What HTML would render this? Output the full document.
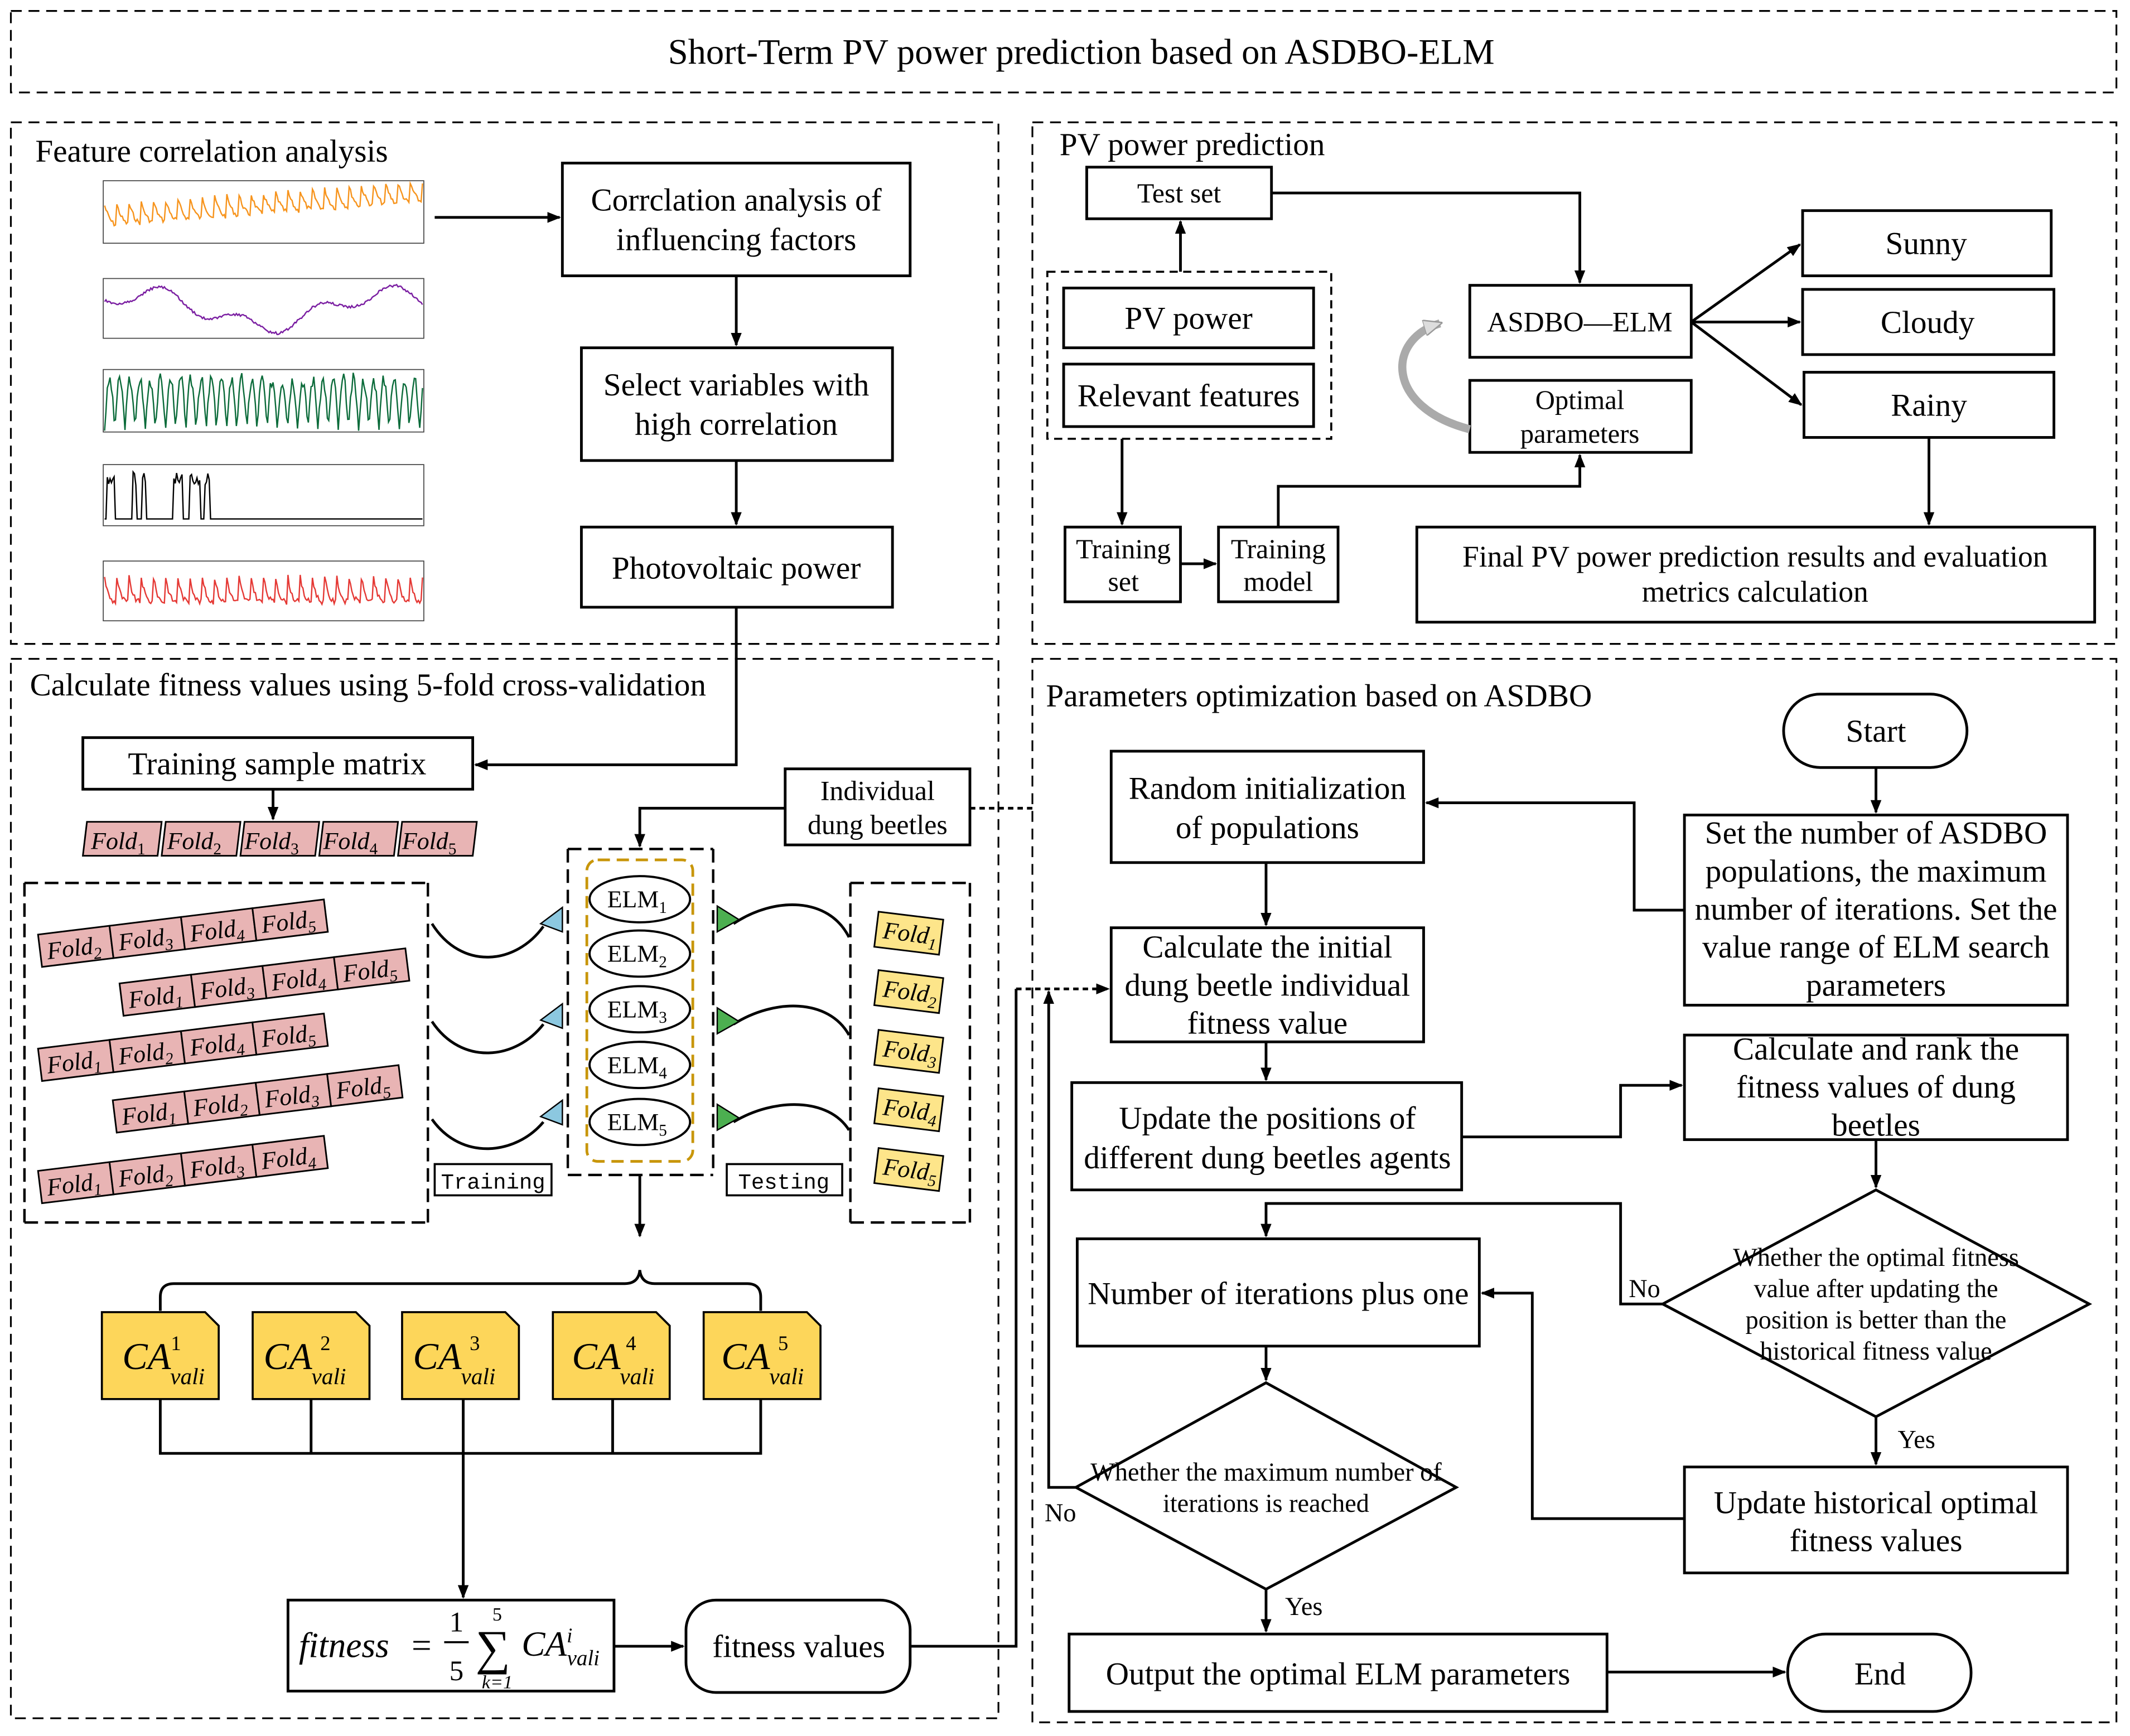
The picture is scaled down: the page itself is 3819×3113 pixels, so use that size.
<!DOCTYPE html>
<html><head><meta charset="utf-8"><style>html,body{margin:0;padding:0;background:#fff}svg{display:block}</style></head>
<body>
<svg xmlns="http://www.w3.org/2000/svg" width="3819" height="3113" viewBox="0 0 1568 1278" font-family="Liberation Serif, serif" font-size="23.5">
<defs>
<marker id="a" markerWidth="10" markerHeight="8" refX="9" refY="4" orient="auto" markerUnits="userSpaceOnUse"><path d="M0,0 L10,4 L0,8 Z" fill="#000"/></marker>
<marker id="g" markerWidth="14" markerHeight="12" refX="12" refY="6" orient="auto" markerUnits="userSpaceOnUse"><path d="M0,0 L14,6 L0,12 Z" fill="#ddd" stroke="#999"/></marker>
</defs>
<rect width="1568" height="1278" fill="#fff"/>
<g fill="none" stroke="#000" stroke-width="1.3" stroke-dasharray="8,5">
<rect x="8" y="8" width="1550" height="60"/>
<rect x="8" y="90" width="727" height="384"/>
<rect x="760" y="90" width="798" height="384"/>
<rect x="8" y="485" width="727" height="780"/>
<rect x="760" y="485" width="798" height="783"/>
</g>
<text x="796" y="47" text-anchor="middle" font-size="26.5">Short-Term PV power prediction based on ASDBO-ELM</text>
<text x="26" y="119" font-size="23.5">Feature correlation analysis</text>
<text x="780" y="114" font-size="23.5">PV power prediction</text>
<text x="22" y="512" font-size="23.5">Calculate fitness values using 5-fold cross-validation</text>
<text x="770" y="520" font-size="23.5">Parameters optimization based on ASDBO</text>

<!-- charts -->
<g fill="none" stroke-width="0.7" stroke="#444">
<rect x="76" y="133" width="236" height="46"/>
<rect x="76" y="205" width="236" height="44"/>
<rect x="76" y="272" width="236" height="46"/>
<rect x="76" y="342" width="236" height="45"/>
<rect x="76" y="413" width="236" height="44"/>
<polyline id="c1" stroke="#f7941d" stroke-width="1"/>
<polyline id="c2" stroke="#7b1fa2" stroke-width="1"/>
<polyline id="c3" stroke="#0b6b3a" stroke-width="1"/>
<polyline id="c4" stroke="#000" stroke-width="1"/>
<polyline id="c5" stroke="#e53935" stroke-width="1"/>
</g>
<script>
(function(){function r(s){return function(){s=(s*9301+49297)%233280;return s/233280;}}
function set(id,y0,h,fn){var p=[];for(var i=0;i<=234;i++){var x=77+i;var v=Math.max(0,Math.min(1,fn(i)));p.push(x+","+(y0+h*v).toFixed(1));}document.getElementById(id).setAttribute("points",p.join(" "));}
var R=r(7);set("c1",135,42,function(i){var ph=(i%9)/9;return 0.7-0.35*Math.pow(1-ph,2)-i*0.0018+0.08*R();});
R=r(11);var w=0.5;set("c2",207,40,function(i){w+= (R()-0.5)*0.08; return 0.5-0.3*Math.sin(i*0.035+0.6)+0.15*Math.sin(i*0.11)+0.05*R();});
R=r(3);set("c3",274,43,function(i){return 1-Math.abs(Math.sin(i*0.42))*(0.75+0.25*R());});
R=r(5);set("c4",344,40,function(i){var on=(i>1&&i<8)||(i>20&&i<24)||(i>27&&i<31)||(i>50&&i<58)||(i>62&&i<71)||(i>73&&i<78);return on?(0.08+0.25*R()):0.95;});
R=r(9);set("c5",415,40,function(i){var ph=(i%9)/9;return 0.75-0.45*Math.pow(1-ph,3)-0.1*R();});})();
</script>

<g fill="none" stroke="#000" stroke-width="2">
<rect x="414" y="120" width="256" height="83"/>
<rect x="428" y="256" width="229" height="83"/>
<rect x="428" y="388" width="229" height="59"/>
<rect x="800" y="123" width="136" height="38"/>
<rect x="783" y="212" width="184" height="44"/>
<rect x="783" y="268" width="184" height="46"/>
<rect x="1082" y="210" width="163" height="53"/>
<rect x="1082" y="280" width="163" height="53"/>
<rect x="1327" y="155" width="183" height="48"/>
<rect x="1327" y="213" width="185" height="48"/>
<rect x="1328" y="274" width="184" height="48"/>
<rect x="1043" y="388" width="499" height="70"/>
<rect x="784" y="388" width="85" height="55"/>
<rect x="897" y="388" width="88" height="55"/>
<rect x="61" y="543" width="287" height="38"/>
<rect x="578" y="566" width="136" height="56"/>
<rect x="212" y="1178" width="240" height="67"/>
<rect x="505" y="1178" width="165" height="68" rx="22"/>
<rect x="1313" y="511" width="135" height="54" rx="27"/>
<rect x="1240" y="600" width="282" height="140"/>
<rect x="818" y="553" width="230" height="82"/>
<rect x="818" y="683" width="230" height="84"/>
<rect x="789" y="797" width="287" height="79"/>
<rect x="1240" y="762" width="282" height="77"/>
<path d="M1381,876 L1538,960 L1381,1043 L1224,960 Z"/>
<rect x="793" y="912" width="296" height="79"/>
<rect x="1240" y="1080" width="282" height="78"/>
<path d="M932,1018 L1072,1095 L932,1170 L792,1095 Z"/>
<rect x="787" y="1203" width="396" height="57"/>
<rect x="1316" y="1203" width="135" height="57" rx="28"/>
</g>
<rect x="771" y="200" width="209" height="123" fill="none" stroke="#000" stroke-width="1.5" stroke-dasharray="6,4"/>

<g font-size="23.5" text-anchor="middle">
<text x="542" y="155">Corrclation analysis of</text><text x="542" y="184">influencing factors</text>
<text x="542" y="291">Select variables with</text><text x="542" y="320">high correlation</text>
<text x="542" y="426">Photovoltaic power</text>
<text x="868" y="149" font-size="20.5">Test set</text>
<text x="875" y="242">PV power</text>
<text x="875" y="299">Relevant features</text>
<text x="1163" y="244" font-size="21">ASDBO—ELM</text>
<text x="1163" y="301" font-size="20">Optimal</text><text x="1163" y="326" font-size="20">parameters</text>
<text x="1418" y="187">Sunny</text><text x="1419" y="245">Cloudy</text><text x="1420" y="306">Rainy</text>
<text x="1292" y="417" font-size="22">Final PV power prediction results and evaluation</text>
<text x="1292" y="443" font-size="22">metrics calculation</text>
<text x="827" y="411" font-size="20.5">Training</text><text x="827" y="435" font-size="20.5">set</text>
<text x="941" y="411" font-size="20.5">Training</text><text x="941" y="435" font-size="20.5">model</text>
<text x="204" y="570">Training sample matrix</text>
<text x="646" y="589" font-size="20.5">Individual</text><text x="646" y="614" font-size="20.5">dung beetles</text>
<text x="588" y="1220">fitness values</text>
<text x="1381" y="546">Start</text>
<text x="1381" y="621">Set the number of ASDBO</text>
<text x="1381" y="649">populations, the maximum</text>
<text x="1381" y="677">number of iterations. Set the</text>
<text x="1381" y="705">value range of ELM search</text>
<text x="1381" y="733">parameters</text>
<text x="933" y="588">Random initialization</text><text x="933" y="617">of populations</text>
<text x="933" y="705">Calculate the initial</text><text x="933" y="733">dung beetle individual</text><text x="933" y="761">fitness value</text>
<text x="933" y="831">Update the positions of</text><text x="933" y="860">different dung beetles agents</text>
<text x="1381" y="780">Calculate and rank the</text><text x="1381" y="808">fitness values of dung</text><text x="1381" y="836">beetles</text>
<text x="1381" y="932" font-size="19">Whether the optimal fitness</text>
<text x="1381" y="955" font-size="19">value after updating the</text>
<text x="1381" y="978" font-size="19">position is better than the</text>
<text x="1381" y="1001" font-size="19">historical fitness value</text>
<text x="941" y="960">Number of iterations plus one</text>
<text x="1381" y="1114">Update historical optimal</text><text x="1381" y="1142">fitness values</text>
<text x="932" y="1090" font-size="19">Whether the maximum number of</text>
<text x="932" y="1113" font-size="19">iterations is reached</text>
<text x="985" y="1240">Output the optimal ELM parameters</text>
<text x="1384" y="1240">End</text>
</g>
<g font-size="19">
<text x="1199" y="955">No</text><text x="1397" y="1066">Yes</text>
<text x="769" y="1120">No</text><text x="946" y="1189">Yes</text>
</g>

<g fill="none" stroke="#000" stroke-width="2" marker-end="url(#a)">
<path d="M320,160 L412,160"/>
<path d="M542,203 L542,254"/>
<path d="M542,339 L542,386"/>
<path d="M542,447 L542,563 L350,563"/>
<path d="M869,200 L869,163"/>
<path d="M936,142 L1163,142 L1163,208"/>
<path d="M1245,237 L1325,180"/>
<path d="M1245,237 L1325,237"/>
<path d="M1245,237 L1326,298"/>
<path d="M1420,322 L1420,386"/>
<path d="M826,323 L826,386"/>
<path d="M869,415 L895,415"/>
<path d="M941,388 L941,358 L1163,358 L1163,335"/>
<path d="M201,581 L201,603"/>
<path d="M578,595 L471,595 L471,623"/>
<path d="M471,865 L471,910"/>
<path d="M341,1070 L341,1176"/>
<path d="M452,1212 L503,1212"/>
<path d="M1381,565 L1381,598"/>
<path d="M1240,670 L1203,670 L1203,591 L1050,591"/>
<path d="M932,635 L932,681"/>
<path d="M932,767 L932,795"/>
<path d="M1076,837 L1193,837 L1193,799 L1238,799"/>
<path d="M1381,839 L1381,874"/>
<path d="M1224,960 L1193,960 L1193,886 L932,886 L932,910"/>
<path d="M1381,1043 L1381,1078"/>
<path d="M1240,1118 L1128,1118 L1128,952 L1091,952"/>
<path d="M932,991 L932,1016"/>
<path d="M792,1095 L772,1095 L772,730"/>
<path d="M932,1170 L932,1201"/>
<path d="M1183,1231 L1314,1231"/>
</g>
<path d="M670,1212 L748,1212 L748,728" fill="none" stroke="#000" stroke-width="2"/>
<path d="M748,728 L816,728" fill="none" stroke="#000" stroke-width="2" stroke-dasharray="4,3" marker-end="url(#a)"/>
<path d="M714,595 L760,595" fill="none" stroke="#000" stroke-width="2" stroke-dasharray="4,3"/>
<path d="M1082,316 C1020,300 1020,250 1060,238" fill="none" stroke="#aaa" stroke-width="6" marker-end="url(#g)"/>

<g font-style="italic" font-size="18" stroke-width="1.2">
<g transform="translate(61,605)">
<g fill="#e8b4b4" stroke="#000"><path d="M3,0 L58,0 L55,25 L0,25Z"/><path d="M61,0 L116,0 L113,25 L58,25Z"/><path d="M119,0 L174,0 L171,25 L116,25Z"/><path d="M177,0 L232,0 L229,25 L174,25Z"/><path d="M235,0 L290,0 L287,25 L232,25Z"/></g>
<text x="6" y="20">Fold<tspan font-size="12" font-style="normal" dy="4">1</tspan></text><text x="62" y="20">Fold<tspan font-size="12" font-style="normal" dy="4">2</tspan></text><text x="119" y="20">Fold<tspan font-size="12" font-style="normal" dy="4">3</tspan></text><text x="177" y="20">Fold<tspan font-size="12" font-style="normal" dy="4">4</tspan></text><text x="235" y="20">Fold<tspan font-size="12" font-style="normal" dy="4">5</tspan></text>
</g>
</g>
<path d="M18,650 L315,650 M18,900 L315,900 M18,650 L18,900 M315,650 L315,900 M626,650 L714,650 M626,900 L714,900 M626,650 L626,900 M714,650 L714,900 M418,625 L525,625 M418,865 L525,865 M418,625 L418,865 M525,625 L525,865" stroke="#000" stroke-width="1.8" stroke-dasharray="10,5" fill="none"/>

<g font-style="italic" font-size="18" stroke-width="1.2">
<g transform="translate(28,688) rotate(-7)"><g fill="#e8b4b4" stroke="#000"><rect x="0" y="0" width="53" height="24"/><rect x="53" y="0" width="53" height="24"/><rect x="106" y="0" width="53" height="24"/><rect x="159" y="0" width="53" height="24"/></g>
<text x="5" y="19">Fold<tspan font-size="12" dy="4">2</tspan></text><text x="58" y="19">Fold<tspan font-size="12" dy="4">3</tspan></text><text x="111" y="19">Fold<tspan font-size="12" dy="4">4</tspan></text><text x="164" y="19">Fold<tspan font-size="12" dy="4">5</tspan></text></g>
<g transform="translate(88,724) rotate(-7)"><g fill="#e8b4b4" stroke="#000"><rect x="0" y="0" width="53" height="24"/><rect x="53" y="0" width="53" height="24"/><rect x="106" y="0" width="53" height="24"/><rect x="159" y="0" width="53" height="24"/></g>
<text x="5" y="19">Fold<tspan font-size="12" dy="4">1</tspan></text><text x="58" y="19">Fold<tspan font-size="12" dy="4">3</tspan></text><text x="111" y="19">Fold<tspan font-size="12" dy="4">4</tspan></text><text x="164" y="19">Fold<tspan font-size="12" dy="4">5</tspan></text></g>
<g transform="translate(28,772) rotate(-7)"><g fill="#e8b4b4" stroke="#000"><rect x="0" y="0" width="53" height="24"/><rect x="53" y="0" width="53" height="24"/><rect x="106" y="0" width="53" height="24"/><rect x="159" y="0" width="53" height="24"/></g>
<text x="5" y="19">Fold<tspan font-size="12" dy="4">1</tspan></text><text x="58" y="19">Fold<tspan font-size="12" dy="4">2</tspan></text><text x="111" y="19">Fold<tspan font-size="12" dy="4">4</tspan></text><text x="164" y="19">Fold<tspan font-size="12" dy="4">5</tspan></text></g>
<g transform="translate(83,810) rotate(-7)"><g fill="#e8b4b4" stroke="#000"><rect x="0" y="0" width="53" height="24"/><rect x="53" y="0" width="53" height="24"/><rect x="106" y="0" width="53" height="24"/><rect x="159" y="0" width="53" height="24"/></g>
<text x="5" y="19">Fold<tspan font-size="12" dy="4">1</tspan></text><text x="58" y="19">Fold<tspan font-size="12" dy="4">2</tspan></text><text x="111" y="19">Fold<tspan font-size="12" dy="4">3</tspan></text><text x="164" y="19">Fold<tspan font-size="12" dy="4">5</tspan></text></g>
<g transform="translate(28,862) rotate(-7)"><g fill="#e8b4b4" stroke="#000"><rect x="0" y="0" width="53" height="24"/><rect x="53" y="0" width="53" height="24"/><rect x="106" y="0" width="53" height="24"/><rect x="159" y="0" width="53" height="24"/></g>
<text x="5" y="19">Fold<tspan font-size="12" dy="4">1</tspan></text><text x="58" y="19">Fold<tspan font-size="12" dy="4">2</tspan></text><text x="111" y="19">Fold<tspan font-size="12" dy="4">3</tspan></text><text x="164" y="19">Fold<tspan font-size="12" dy="4">4</tspan></text></g>
<g fill="#fde58a" stroke="#000">
<rect x="645" y="674" width="48" height="26" transform="rotate(7 669 687)"/>
<rect x="645" y="717" width="48" height="26" transform="rotate(7 669 730)"/>
<rect x="645" y="761" width="48" height="26" transform="rotate(7 669 774)"/>
<rect x="645" y="804" width="48" height="26" transform="rotate(7 669 817)"/>
<rect x="645" y="848" width="48" height="26" transform="rotate(7 669 861)"/>
</g>
<text x="650" y="693" transform="rotate(7 669 687)">Fold<tspan font-size="12" dy="4">1</tspan></text>
<text x="650" y="736" transform="rotate(7 669 730)">Fold<tspan font-size="12" dy="4">2</tspan></text>
<text x="650" y="780" transform="rotate(7 669 774)">Fold<tspan font-size="12" dy="4">3</tspan></text>
<text x="650" y="823" transform="rotate(7 669 817)">Fold<tspan font-size="12" dy="4">4</tspan></text>
<text x="650" y="867" transform="rotate(7 669 861)">Fold<tspan font-size="12" dy="4">5</tspan></text>
</g>

<rect x="432" y="633" width="78" height="222" rx="8" fill="none" stroke="#c8960a" stroke-width="2" stroke-dasharray="9,5"/>
<g fill="#fff" stroke="#000" stroke-width="1.6">
<ellipse cx="471" cy="662" rx="37" ry="17"/><ellipse cx="471" cy="702" rx="37" ry="17"/><ellipse cx="471" cy="743" rx="37" ry="17"/><ellipse cx="471" cy="784" rx="37" ry="17"/><ellipse cx="471" cy="826" rx="37" ry="17"/>
</g>
<g font-size="18" text-anchor="middle">
<text x="469" y="668">ELM<tspan font-size="12" dy="4">1</tspan></text>
<text x="469" y="708">ELM<tspan font-size="12" dy="4">2</tspan></text>
<text x="469" y="749">ELM<tspan font-size="12" dy="4">3</tspan></text>
<text x="469" y="790">ELM<tspan font-size="12" dy="4">4</tspan></text>
<text x="469" y="832">ELM<tspan font-size="12" dy="4">5</tspan></text>
</g>
<g fill="none" stroke="#000" stroke-width="2">
<path d="M318,680 C340,715 380,710 400,682"/><path d="M318,752 C340,785 380,780 400,754"/><path d="M318,824 C340,855 380,850 400,826"/>
<path d="M625,690 C610,660 570,660 540,680"/><path d="M625,762 C610,735 570,735 540,754"/><path d="M625,832 C610,808 570,808 540,826"/>
</g>
<g stroke="#000" stroke-width="1">
<path d="M414,668 L414,686 L398,680Z" fill="#8cc8e0"/><path d="M414,739 L414,757 L398,751Z" fill="#8cc8e0"/><path d="M414,810 L414,828 L398,822Z" fill="#8cc8e0"/>
<path d="M528,667 L528,686 L544,677Z" fill="#4caf50"/><path d="M528,742 L528,761 L544,752Z" fill="#4caf50"/><path d="M528,813 L528,832 L544,823Z" fill="#4caf50"/>
</g>
<rect x="320" y="857" width="86" height="23" fill="#fff" stroke="#000" stroke-width="1.5"/>
<rect x="535" y="857" width="85" height="23" fill="#fff" stroke="#000" stroke-width="1.5"/>
<text x="363" y="875" text-anchor="middle" font-family="Liberation Mono, monospace" font-size="16">Training</text>
<text x="577" y="875" text-anchor="middle" font-family="Liberation Mono, monospace" font-size="16">Testing</text>

<path d="M118,965 L118,955 Q118,945 128,945 L460,945 Q470,945 471,935 Q472,945 482,945 L550,945 Q560,945 560,955 L560,965" fill="none" stroke="#000" stroke-width="2"/>
<g fill="#fdd65a" stroke="#000" stroke-width="1.5">
<path d="M75,966 L151,966 L161,976 L161,1030 L75,1030Z"/>
<path d="M186,966 L262,966 L272,976 L272,1030 L186,1030Z"/>
<path d="M296,966 L372,966 L382,976 L382,1030 L296,1030Z"/>
<path d="M407,966 L483,966 L493,976 L493,1030 L407,1030Z"/>
<path d="M518,966 L594,966 L604,976 L604,1030 L518,1030Z"/>
</g>
<g font-style="italic" font-size="28">
<text x="90" y="1008">CA<tspan font-size="15" font-style="normal" dy="-14">1</tspan><tspan font-size="17" dx="-8" dy="25">vali</tspan></text>
<text x="194" y="1008">CA<tspan font-size="15" font-style="normal" dy="-14" dx="6">2</tspan><tspan font-size="17" dx="-14" dy="25">vali</tspan></text>
<text x="304" y="1008">CA<tspan font-size="15" font-style="normal" dy="-14" dx="6">3</tspan><tspan font-size="17" dx="-14" dy="25">vali</tspan></text>
<text x="421" y="1008">CA<tspan font-size="15" font-style="normal" dy="-14" dx="4">4</tspan><tspan font-size="17" dx="-12" dy="25">vali</tspan></text>
<text x="531" y="1008">CA<tspan font-size="15" font-style="normal" dy="-14" dx="6">5</tspan><tspan font-size="17" dx="-14" dy="25">vali</tspan></text>
</g>
<path d="M118,1030 L118,1070 L560,1070 L560,1030 M229,1030 L229,1070 M341,1030 L341,1070 M451,1030 L451,1070" fill="none" stroke="#000" stroke-width="2"/>
<g font-size="26">
<text x="220" y="1220" font-style="italic">fitness</text>
<text x="303" y="1220">=</text>
<text x="336" y="1201" text-anchor="middle" font-size="21">1</text>
<line x1="327" y1="1209" x2="345" y2="1209" stroke="#000" stroke-width="1.5"/>
<text x="336" y="1237" text-anchor="middle" font-size="21">5</text>
<text x="350" y="1225" font-size="36">∑</text>
<text x="366" y="1193" text-anchor="middle" font-size="14">5</text>
<text x="366" y="1243" text-anchor="middle" font-size="14" font-style="italic">k=1</text>
<text x="384" y="1219" font-style="italic">CA<tspan font-size="15" dy="-10">i</tspan><tspan font-size="16" dx="-4" dy="17">vali</tspan></text>
</g>
</svg>
</body></html>
